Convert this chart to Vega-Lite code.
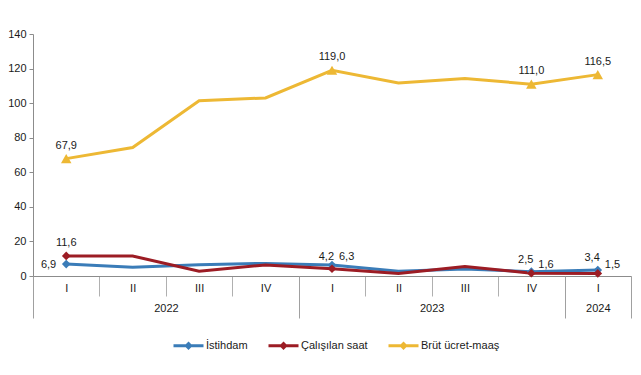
{
  "$schema": "https://vega.github.io/schema/vega-lite/v6.json",
  "width": 598,
  "height": 242,
  "autosize": "none",
  "padding": {"left": 33, "top": 34, "right": 10, "bottom": 99},
  "background": "white",
  "config": {
    "font": "Liberation Sans",
    "view": {"stroke": null},
    "locale": {"number": {"decimal": ",", "thousands": ".", "grouping": [3], "currency": ["", ""]}},
    "axis": {"labelFont": "Liberation Sans", "labelFontSize": 11, "labelColor": "#1a1a1a", "domainColor": "#8c8c8c", "tickColor": "#8c8c8c", "grid": false, "title": null}
  },
  "data": {
    "values": [
      {"idx": 0, "series": "İstihdam", "value": 6.9},
      {"idx": 1, "series": "İstihdam", "value": 5.0},
      {"idx": 2, "series": "İstihdam", "value": 6.5},
      {"idx": 3, "series": "İstihdam", "value": 7.3},
      {"idx": 4, "series": "İstihdam", "value": 6.3},
      {"idx": 5, "series": "İstihdam", "value": 2.8},
      {"idx": 6, "series": "İstihdam", "value": 4.0},
      {"idx": 7, "series": "İstihdam", "value": 2.5},
      {"idx": 8, "series": "İstihdam", "value": 3.4},
      {"idx": 0, "series": "Çalışılan saat", "value": 11.6},
      {"idx": 1, "series": "Çalışılan saat", "value": 11.5},
      {"idx": 2, "series": "Çalışılan saat", "value": 2.8},
      {"idx": 3, "series": "Çalışılan saat", "value": 6.4},
      {"idx": 4, "series": "Çalışılan saat", "value": 4.2},
      {"idx": 5, "series": "Çalışılan saat", "value": 1.5},
      {"idx": 6, "series": "Çalışılan saat", "value": 5.5},
      {"idx": 7, "series": "Çalışılan saat", "value": 1.6},
      {"idx": 8, "series": "Çalışılan saat", "value": 1.5},
      {"idx": 0, "series": "Brüt ücret-maaş", "value": 67.9},
      {"idx": 1, "series": "Brüt ücret-maaş", "value": 74.3},
      {"idx": 2, "series": "Brüt ücret-maaş", "value": 101.4},
      {"idx": 3, "series": "Brüt ücret-maaş", "value": 103.0},
      {"idx": 4, "series": "Brüt ücret-maaş", "value": 119.0},
      {"idx": 5, "series": "Brüt ücret-maaş", "value": 111.6},
      {"idx": 6, "series": "Brüt ücret-maaş", "value": 114.2},
      {"idx": 7, "series": "Brüt ücret-maaş", "value": 111.0},
      {"idx": 8, "series": "Brüt ücret-maaş", "value": 116.5}
    ]
  },
  "encoding": {
    "y": {
      "field": "value", "type": "quantitative",
      "scale": {"domain": [0, 140], "nice": false},
      "axis": {"values": [0, 20, 40, 60, 80, 100, 120, 140], "tickSize": 4, "labelPadding": 3, "format": "d"}
    }
  },
  "layer": [
    {
      "mark": {"type": "line", "strokeWidth": 3},
      "encoding": {
        "x": {"field": "idx", "type": "quantitative", "scale": {"domain": [-0.5, 8.5], "nice": false, "zero": false},
          "axis": {"orient": "bottom", "values": [-0.5, 0.5, 1.5, 2.5, 3.5, 4.5, 5.5, 6.5, 7.5, 8.5], "tickSize": 20, "labels": false, "domain": true, "tickColor": "#b0b0b0"}},
        "color": {"field": "series", "type": "nominal",
          "scale": {"domain": ["İstihdam", "Çalışılan saat", "Brüt ücret-maaş"], "range": ["#3A7CB8", "#9C1C24", "#EDB834"]},
          "legend": {"orient": "none", "legendX": 139, "legendY": 295, "direction": "horizontal", "title": null,
            "symbolType": "M-1,0H1M0,-0.14L0.14,0L0,0.14L-0.14,0Z", "symbolSize": 900, "symbolStrokeWidth": 3,
            "labelFont": "Liberation Sans", "labelFontSize": 11, "labelColor": "#1a1a1a", "labelOffset": 1, "columnPadding": 14,
            "encode": {"symbols": {"update": {"fill": {"scale": "color", "field": "value"}, "stroke": {"scale": "color", "field": "value"}}}}}
        }
      }
    },
    {
      "transform": [{"filter": "indexof([0,4,7,8], datum.idx) >= 0 && datum.series != 'Brüt ücret-maaş'"}],
      "mark": {"type": "point", "filled": true, "opacity": 1, "shape": "diamond", "size": 75},
      "encoding": {
        "x": {"field": "idx", "type": "quantitative",
          "axis": {"orient": "bottom", "values": [0, 1, 2, 3, 4, 5, 6, 7, 8], "ticks": false, "domain": false, "labelPadding": 6,
            "labelExpr": "['I','II','III','IV'][datum.value % 4]"}},
        "color": {"field": "series", "type": "nominal"}
      }
    },
    {
      "transform": [{"filter": "indexof([0,4,7,8], datum.idx) >= 0 && datum.series == 'Brüt ücret-maaş'"}],
      "mark": {"type": "point", "filled": true, "opacity": 1, "shape": "triangle-up", "size": 110},
      "encoding": {
        "x": {"field": "idx", "type": "quantitative", "axis": null},
        "color": {"field": "series", "type": "nominal"}
      }
    },
    {
      "transform": [{"filter": "(datum.series == 'Brüt ücret-maaş' && indexof([0,4,7,8], datum.idx) >= 0) || (datum.series == 'Çalışılan saat' && datum.idx == 0)"}],
      "mark": {"type": "text", "font": "Liberation Sans", "fontSize": 11, "color": "#1a1a1a", "dy": -13, "align": "center", "baseline": "middle"},
      "encoding": {
        "x": {"field": "idx", "type": "quantitative",
          "axis": {"orient": "bottom", "values": [-0.5, 3.5, 7.5, 8.5], "tickSize": 42, "labels": false, "domain": false, "tickColor": "#a0a0a0"}},
        "text": {"field": "value", "type": "quantitative", "format": ".1f"}
      }
    },
    {
      "transform": [{"filter": "(datum.series == 'İstihdam' && (datum.idx == 7 || datum.idx == 8)) || (datum.series == 'Çalışılan saat' && datum.idx == 4)"}],
      "mark": {"type": "text", "font": "Liberation Sans", "fontSize": 11, "color": "#1a1a1a", "dy": -12, "dx": 2, "align": "right", "baseline": "middle"},
      "encoding": {
        "x": {"field": "idx", "type": "quantitative",
          "axis": {"orient": "bottom", "values": [1.5, 5.5, 8], "ticks": false, "domain": false, "labelPadding": 26,
            "labelExpr": "datum.value < 3 ? '2022' : (datum.value < 7 ? '2023' : '2024')"}},
        "text": {"field": "value", "type": "quantitative", "format": ".1f"}
      }
    },
    {
      "transform": [{"filter": "(datum.series == 'Çalışılan saat' && (datum.idx == 7 || datum.idx == 8)) || (datum.series == 'İstihdam' && datum.idx == 4)"}],
      "mark": {"type": "text", "font": "Liberation Sans", "fontSize": 11, "color": "#1a1a1a", "dy": -8, "dx": 7, "align": "left", "baseline": "middle"},
      "encoding": {
        "x": {"field": "idx", "type": "quantitative", "axis": null},
        "text": {"field": "value", "type": "quantitative", "format": ".1f"}
      }
    },
    {
      "transform": [{"filter": "datum.series == 'İstihdam' && datum.idx == 0"}],
      "mark": {"type": "text", "font": "Liberation Sans", "fontSize": 11, "color": "#1a1a1a", "dx": -10, "dy": 1, "align": "right", "baseline": "middle"},
      "encoding": {
        "x": {"field": "idx", "type": "quantitative", "axis": null},
        "text": {"field": "value", "type": "quantitative", "format": ".1f"}
      }
    }
  ],
  "resolve": {"axis": {"x": "independent"}}
}
